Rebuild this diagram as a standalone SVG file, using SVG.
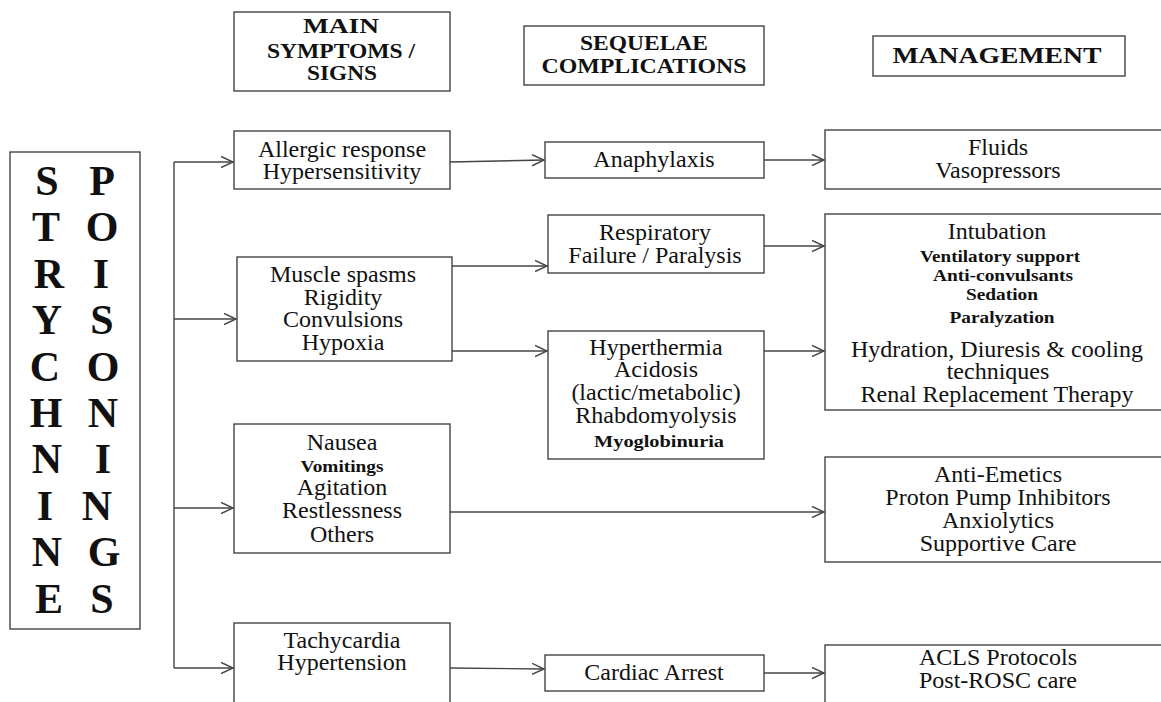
<svg xmlns="http://www.w3.org/2000/svg" width="1161" height="702" viewBox="0 0 1161 702">
<style>
.box{fill:#fff;stroke:#444;stroke-width:1.4}
.t{font-family:"Liberation Serif","Times New Roman",serif;font-size:24px;fill:#111;text-anchor:middle}
.b{font-weight:bold;font-size:16px}
.h{font-weight:bold}
.big{font-family:"Liberation Serif","Times New Roman",serif;font-weight:bold;font-size:42px;fill:#111;text-anchor:middle}
.conn{stroke:#444;stroke-width:1.4;fill:none}
</style>
<defs>
<marker id="arr" markerUnits="userSpaceOnUse" markerWidth="14" markerHeight="14" refX="12" refY="6" orient="auto" viewBox="0 0 14 12">
<path d="M0,0.5 L12,6 L0,11.5" fill="none" stroke="#444" stroke-width="1.4"/>
</marker>
</defs>
<rect width="1161" height="702" fill="#fff"/>

<g id="title">
<rect class="box" x="10" y="152" width="130" height="477"/>
<text class="big" x="47" y="195">S</text><text class="big" x="102" y="195">P</text>
<text class="big" x="46" y="241">T</text><text class="big" x="102" y="241">O</text>
<text class="big" x="49" y="288">R</text><text class="big" x="101" y="288">I</text>
<text class="big" x="47" y="334">Y</text><text class="big" x="102" y="334">S</text>
<text class="big" x="45" y="381">C</text><text class="big" x="103" y="381">O</text>
<text class="big" x="46" y="427">H</text><text class="big" x="103" y="427">N</text>
<text class="big" x="47" y="473">N</text><text class="big" x="103" y="473">I</text>
<text class="big" x="45" y="520">I</text><text class="big" x="97" y="520">N</text>
<text class="big" x="47" y="566">N</text><text class="big" x="104" y="566">G</text>
<text class="big" x="49" y="613">E</text><text class="big" x="102" y="613">S</text>
</g>

<g id="hdr-symptoms">
<rect class="box" x="234" y="12" width="216" height="79"/>
<text class="t h" style="font-size:22px" x="341" y="33" textLength="76" lengthAdjust="spacingAndGlyphs">MAIN</text>
<text class="t h" style="font-size:22px" x="341" y="58" textLength="148" lengthAdjust="spacingAndGlyphs">SYMPTOMS /</text>
<text class="t h" style="font-size:22px" x="342" y="80" textLength="70" lengthAdjust="spacingAndGlyphs">SIGNS</text>
</g>

<g id="hdr-sequelae">
<rect class="box" x="524" y="26" width="240" height="59"/>
<text class="t h" style="font-size:20px" x="644" y="50" textLength="128" lengthAdjust="spacingAndGlyphs">SEQUELAE</text>
<text class="t h" style="font-size:20px" x="644" y="73" textLength="205" lengthAdjust="spacingAndGlyphs">COMPLICATIONS</text>
</g>

<g id="hdr-management">
<rect class="box" x="873" y="36" width="252" height="40"/>
<text class="t h" style="font-size:24px" x="997" y="63" textLength="209" lengthAdjust="spacingAndGlyphs">MANAGEMENT</text>
</g>

<g id="allergic">
<rect class="box" x="234" y="131" width="216" height="58"/>
<text class="t" x="342" y="157">Allergic response</text>
<text class="t" x="342" y="179">Hypersensitivity</text>
</g>

<g id="muscle">
<rect class="box" x="237" y="257" width="215" height="104"/>
<text class="t" x="343" y="282">Muscle spasms</text>
<text class="t" x="343" y="305">Rigidity</text>
<text class="t" x="343" y="327">Convulsions</text>
<text class="t" x="343" y="350">Hypoxia</text>
</g>

<g id="nausea">
<rect class="box" x="234" y="424" width="216" height="129"/>
<text class="t" x="342" y="450">Nausea</text>
<text class="t b" x="342" y="472" textLength="83" lengthAdjust="spacingAndGlyphs">Vomitings</text>
<text class="t" x="342" y="495">Agitation</text>
<text class="t" x="342" y="518">Restlessness</text>
<text class="t" x="342" y="542">Others</text>
</g>

<g id="tachy">
<rect class="box" x="234" y="623" width="216" height="100"/>
<text class="t" x="342" y="648">Tachycardia</text>
<text class="t" x="342" y="670">Hypertension</text>
</g>

<g id="anaphylaxis">
<rect class="box" x="545" y="142" width="219" height="36"/>
<text class="t" x="654" y="167">Anaphylaxis</text>
</g>

<g id="respiratory">
<rect class="box" x="548" y="215" width="216" height="58"/>
<text class="t" x="655" y="240">Respiratory</text>
<text class="t" x="655" y="263">Failure / Paralysis</text>
</g>

<g id="hyperthermia">
<rect class="box" x="548" y="331" width="216" height="128"/>
<text class="t" x="656" y="355">Hyperthermia</text>
<text class="t" x="656" y="377">Acidosis</text>
<text class="t" x="656" y="400">(lactic/metabolic)</text>
<text class="t" x="656" y="423">Rhabdomyolysis</text>
<text class="t b" x="659" y="447" textLength="130" lengthAdjust="spacingAndGlyphs">Myoglobinuria</text>
</g>

<g id="cardiac">
<rect class="box" x="545" y="655" width="219" height="36"/>
<text class="t" x="654" y="680">Cardiac Arrest</text>
</g>

<g id="fluids">
<rect class="box" x="825" y="130" width="345" height="59"/>
<text class="t" x="998" y="155">Fluids</text>
<text class="t" x="998" y="178">Vasopressors</text>
</g>

<g id="intubation">
<rect class="box" x="825" y="214" width="345" height="196"/>
<text class="t" x="997" y="239">Intubation</text>
<text class="t b" x="1000" y="262" textLength="160" lengthAdjust="spacingAndGlyphs">Ventilatory support</text>
<text class="t b" x="1003" y="281" textLength="140" lengthAdjust="spacingAndGlyphs">Anti-convulsants</text>
<text class="t b" x="1002" y="300" textLength="72" lengthAdjust="spacingAndGlyphs">Sedation</text>
<text class="t b" x="1002" y="323" textLength="105" lengthAdjust="spacingAndGlyphs">Paralyzation</text>
<text class="t" x="997" y="357">Hydration, Diuresis &amp; cooling</text>
<text class="t" x="998" y="379">techniques</text>
<text class="t" x="997" y="402">Renal Replacement Therapy</text>
</g>

<g id="antiemetics">
<rect class="box" x="825" y="457" width="345" height="105"/>
<text class="t" x="998" y="482">Anti-Emetics</text>
<text class="t" x="998" y="505">Proton Pump Inhibitors</text>
<text class="t" x="998" y="528">Anxiolytics</text>
<text class="t" x="998" y="551">Supportive Care</text>
</g>

<g id="acls">
<rect class="box" x="825" y="645" width="345" height="80"/>
<text class="t" x="998" y="665">ACLS Protocols</text>
<text class="t" x="998" y="688">Post-ROSC care</text>
</g>

<g id="connectors">
<path class="conn" d="M174,162 V668"/>
<path class="conn" d="M174,162 H233" marker-end="url(#arr)"/>
<path class="conn" d="M174,319 H236" marker-end="url(#arr)"/>
<path class="conn" d="M174,508 H233" marker-end="url(#arr)"/>
<path class="conn" d="M174,668 H233" marker-end="url(#arr)"/>
<path class="conn" d="M450,162 L544,160" marker-end="url(#arr)"/>
<path class="conn" d="M764,160 H824" marker-end="url(#arr)"/>
<path class="conn" d="M452,266 H547" marker-end="url(#arr)"/>
<path class="conn" d="M452,351 H547" marker-end="url(#arr)"/>
<path class="conn" d="M764,246 H824" marker-end="url(#arr)"/>
<path class="conn" d="M764,351 H824" marker-end="url(#arr)"/>
<path class="conn" d="M450,512 H824" marker-end="url(#arr)"/>
<path class="conn" d="M450,668 L544,669" marker-end="url(#arr)"/>
<path class="conn" d="M764,673 H824" marker-end="url(#arr)"/>
</g>
</svg>
